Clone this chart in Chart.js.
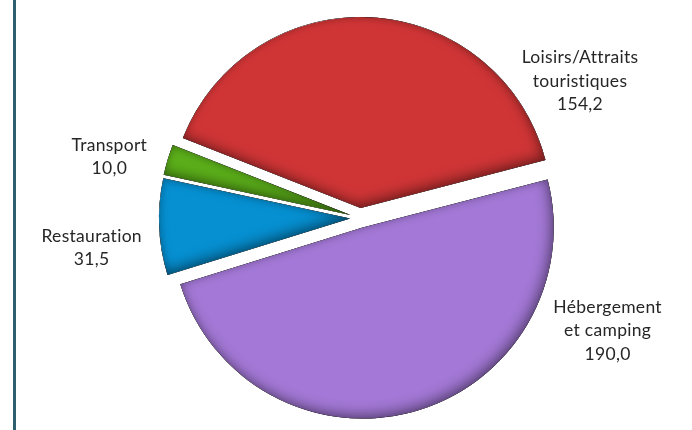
<!DOCTYPE html>
<html lang="fr">
<head>
<meta charset="utf-8">
<title>Dépenses touristiques par secteur</title>
<script src="https://cdn.jsdelivr.net/npm/chart.js@4.4.1/dist/chart.umd.min.js"></script>
<style>
    html, body { margin: 0; padding: 0; background: #fff; }
    #wrap { position: relative; width: 692px; height: 430px; overflow: hidden; }
    #frameLine { position: absolute; left: 13px; top: 0; width: 2.5px; height: 430px; background: #2f5e6e; }
</style>
</head>
<body>
<div id="wrap">
    <div id="frameLine"></div>
    <canvas id="pieChart"></canvas>
</div>
<script>
const CATEGORIES = ['Loisirs/Attraits touristiques', 'Hébergement et camping', 'Restauration', 'Transport'];
const LABEL_LINES = [['Loisirs/Attraits', 'touristiques'], ['Hébergement', 'et camping'], ['Restauration'], ['Transport']];
const VALUES = [154.2, 190.0, 31.5, 10.0];
const COLORS = ['#d03536', '#a378d6', '#0690d2', '#5cb01a'];

// where each label sits: fraction along its slice and gap beyond the rim
const LABEL_FRAC = [0.88, 0.22, 0.37, 0.16];
const LABEL_GAP = [68, 81, 79, 67];
const EXPLODE = 10;

function slicePath(ctx, arc) {
    ctx.beginPath();
    ctx.moveTo(arc.x, arc.y);
    ctx.arc(arc.x, arc.y, arc.outerRadius, arc.startAngle, arc.endAngle);
    ctx.closePath();
}

// pull every slice out from the centre like the excel "explosion"
const explodePlugin = {
    id: 'explode',
    afterDatasetUpdate(chart, args) {
        const meta = chart.getDatasetMeta(args.index);
        meta.data.forEach(arc => {
            const mid = (arc.startAngle + arc.endAngle) / 2;
            arc.x += Math.cos(mid) * EXPLODE;
            arc.y += Math.sin(mid) * EXPLODE;
        });
    }
};

// soft bevel: dark inner shadow on the edges, stronger bottom right
const bevelPlugin = {
    id: 'bevel',
    afterDatasetDraw(chart, args) {
        const ctx = chart.ctx;
        const meta = chart.getDatasetMeta(args.index);
        const passes = [
            { blur: 6, dx: 0, dy: 0, color: 'rgba(0,0,0,0.14)' },
            { blur: 13, dx: -3, dy: -4, color: 'rgba(0,0,0,0.42)' }
        ];
        meta.data.forEach(arc => {
            passes.forEach(p => {
                ctx.save();
                slicePath(ctx, arc);
                ctx.clip();
                ctx.beginPath();
                ctx.rect(-1000, -1000, 3000, 3000);
                ctx.moveTo(arc.x, arc.y);
                ctx.arc(arc.x, arc.y, arc.outerRadius, arc.startAngle, arc.endAngle);
                ctx.closePath();
                ctx.shadowColor = p.color;
                ctx.shadowBlur = p.blur;
                ctx.shadowOffsetX = p.dx;
                ctx.shadowOffsetY = p.dy;
                ctx.fillStyle = '#000';
                ctx.fill('evenodd');
                ctx.restore();
            });
        });
    }
};

const labelPlugin = {
    id: 'sliceLabels',
    afterDraw(chart) {
        const ctx = chart.ctx;
        const area = chart.chartArea;
        const cx = (area.left + area.right) / 2;
        const cy = (area.top + area.bottom) / 2;
        const meta = chart.getDatasetMeta(0);
        const lineH = 23.5;
        ctx.save();
        ctx.font = '17.5px Lato, "Open Sans", sans-serif';
        ctx.letterSpacing = '0.3px';
        ctx.fillStyle = '#262626';
        ctx.textAlign = 'center';
        ctx.textBaseline = 'middle';
        meta.data.forEach((arc, i) => {
            const a = arc.startAngle + LABEL_FRAC[i] * (arc.endAngle - arc.startAngle);
            const r = arc.outerRadius + LABEL_GAP[i];
            const x = cx + Math.cos(a) * r;
            const y = cy + Math.sin(a) * r;
            const lines = LABEL_LINES[i].concat([VALUES[i].toFixed(1).replace('.', ',')]);
            lines.forEach((t, k) => {
                ctx.fillText(t, x, y + (k - (lines.length - 1) / 2) * lineH);
            });
        });
        ctx.restore();
    }
};

new Chart(document.getElementById('pieChart'), {
    type: 'pie',
    data: {
        labels: CATEGORIES,
        datasets: [{
            data: VALUES,
            backgroundColor: COLORS,
            borderWidth: 0
        }]
    },
    options: {
        responsive: true,
        maintainAspectRatio: false,
        animation: false,
        events: [],
        rotation: -68.5,
        layout: { padding: { left: 28, right: 0, top: 27, bottom: 21 } },
        plugins: { legend: { display: false }, tooltip: { enabled: false } }
    },
    plugins: [explodePlugin, bevelPlugin, labelPlugin]
});
</script>
</body>
</html>
